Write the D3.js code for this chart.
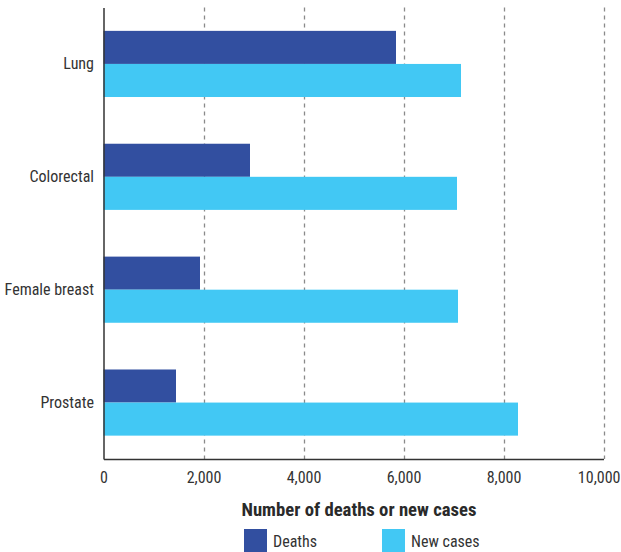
<!DOCTYPE html>
<html>
<head>
<meta charset="utf-8">
<script src="https://cdn.jsdelivr.net/npm/d3@7"></script>
<style>
  html, body { margin: 0; padding: 0; background: #fff; }
  svg text { font-family: "Roboto Condensed", "Liberation Sans Narrow", sans-serif; }
</style>
</head>
<body>
<svg id="chart" width="621" height="552"></svg>
<script>
const categories = ["Lung", "Colorectal", "Female breast", "Prostate"];
const seriesNames = ["Deaths", "New cases"];
const deaths = [5850, 2930, 1930, 1450];
const newCases = [7150, 7070, 7090, 8290];
const tickValues = [0, 2000, 4000, 6000, 8000, 10000];
const colors = ["#324FA0", "#42C8F4"];

const svg = d3.select("#chart");
const mLeft = 103.5, mRight = 603.5, mTop = 7.5, mBottom = 459;

const x = d3.scaleLinear().domain([0, 10000]).range([mLeft, mRight]);
const y = d3.scaleBand().domain(categories).range([mTop, mBottom])
  .paddingInner(0.414).paddingOuter(0.207);
const ySub = d3.scaleBand().domain(seriesNames).range([0, y.bandwidth()]);

svg.append("g").selectAll("line").data(tickValues.filter(d => d > 0)).join("line")
  .attr("x1", d => Math.round(x(d)) + 0.5).attr("x2", d => Math.round(x(d)) + 0.5)
  .attr("y1", mTop).attr("y2", mBottom)
  .attr("stroke", "#8a8a8a").attr("stroke-width", 1.3)
  .attr("stroke-dasharray", "4,4");

const data = categories.map((c, i) => ({ cat: c, values: [deaths[i], newCases[i]] }));
const groups = svg.append("g").selectAll("g").data(data).join("g")
  .attr("transform", d => `translate(0,${y(d.cat)})`);
groups.selectAll("rect").data(d => d.values.map((v, j) => ({ v, s: seriesNames[j], j })))
  .join("rect")
  .attr("x", x(0))
  .attr("y", d => ySub(d.s))
  .attr("width", d => x(d.v) - x(0))
  .attr("height", ySub.bandwidth())
  .attr("fill", d => colors[d.j]);

const FONT = '"Roboto Condensed", "Liberation Sans Narrow", sans-serif';

const xAxis = d3.axisBottom(x).tickValues(tickValues).tickSize(0).tickPadding(13)
  .tickFormat(d3.format(","));
const gx = svg.append("g").attr("transform", `translate(0,${mBottom})`).call(xAxis);
gx.select(".domain").attr("stroke", "#333").attr("stroke-width", 1.5);
gx.selectAll("text").attr("font-size", 16).attr("fill", "#333").style("font-family", FONT);
// keep the last label inside the canvas, as in the reference
gx.selectAll(".tick").filter(d => d === 10000).select("text")
  .attr("text-anchor", "end").attr("x", 620 - mRight);

const yAxis = d3.axisLeft(y).tickSize(0).tickPadding(9.5);
const gy = svg.append("g").attr("transform", `translate(${mLeft},0)`).call(yAxis);
gy.select(".domain").attr("stroke", "#333").attr("stroke-width", 1.5);
gy.selectAll("text").attr("font-size", 16).attr("fill", "#333").style("font-family", FONT);

svg.append("text").attr("x", 359).attr("y", 516)
  .attr("text-anchor", "middle").attr("font-size", 18.7).attr("font-weight", "bold")
  .attr("fill", "#2a2a2a").style("font-family", FONT).text("Number of deaths or new cases");

const legendX = [244, 382];
const lg = svg.append("g").selectAll("g").data(seriesNames).join("g")
  .attr("transform", (d, i) => `translate(${legendX[i]},529)`);
lg.append("rect").attr("width", 23).attr("height", 23).attr("fill", (d, i) => colors[i]);
lg.append("text").attr("x", 29).attr("y", 17.7).attr("font-size", 16).attr("fill", "#333")
  .style("font-family", FONT).text(d => d);
</script>
</body>
</html>
